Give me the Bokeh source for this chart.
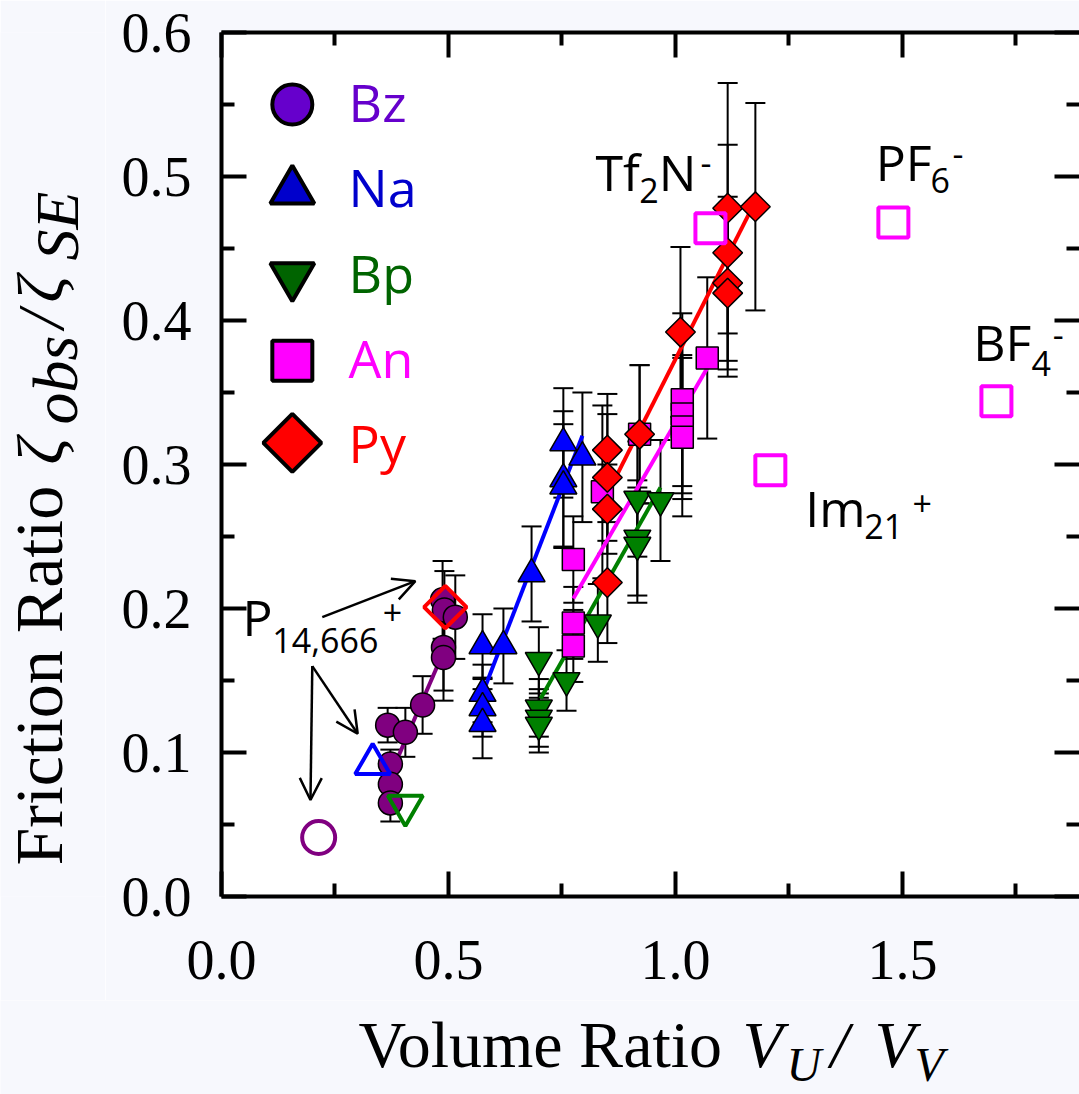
import math
from bokeh.plotting import figure
from bokeh.layouts import column, row
from bokeh.models import (ColumnDataSource, Whisker, TeeHead, FixedTicker,
                          PrintfTickFormatter, CustomJSTickFormatter, LinearAxis,
                          Label, Arrow, OpenHead)
from bokeh.embed import file_html
from bokeh.resources import INLINE

# ---- friction ratio vs. volume ratio, one series per solvent ----
bz_x = [0.366, 0.405, 0.443, 0.372, 0.372, 0.372, 0.489, 0.489, 0.487, 0.491, 0.515]
bz_y = [0.119, 0.114, 0.133, 0.092, 0.078, 0.065, 0.173, 0.166, 0.206, 0.199, 0.194]
bz_err = [0.012, 0.017, 0.020, 0.010, 0.010, 0.013, 0.030, 0.030, 0.027, 0.027, 0.029]

na_x = [0.575, 0.575, 0.575, 0.575, 0.621, 0.683, 0.753, 0.753, 0.753, 0.795]
na_y = [0.174, 0.141, 0.131, 0.120, 0.174, 0.224, 0.315, 0.290, 0.285, 0.305]
na_err = [0.022, 0.020, 0.020, 0.024, 0.026, 0.033, 0.038, 0.047, 0.043, 0.045]

bp_x = [0.699, 0.699, 0.699, 0.699, 0.760, 0.829, 0.916, 0.916, 0.916, 0.967]
bp_y = [0.164, 0.131, 0.124, 0.119, 0.150, 0.190, 0.276, 0.249, 0.244, 0.275]
bp_err = [0.023, 0.020, 0.020, 0.019, 0.021, 0.027, 0.040, 0.040, 0.040, 0.042]

an_x = [0.775, 0.775, 0.775, 0.839, 0.921, 1.015, 1.015, 1.015, 1.015, 1.070]
an_y = [0.234, 0.190, 0.174, 0.281, 0.321, 0.345, 0.335, 0.326, 0.319, 0.374]
an_err = [0.030, 0.025, 0.025, 0.060, 0.048, 0.060, 0.055, 0.050, 0.055, 0.056]

py_x = [0.850, 0.850, 0.850, 0.850, 0.921, 1.011, 1.115, 1.115, 1.115, 1.115, 1.176]
py_y = [0.310, 0.291, 0.269, 0.218, 0.321, 0.392, 0.478, 0.447, 0.426, 0.419, 0.479]
py_err = [0.039, 0.044, 0.031, 0.042, 0.048, 0.059, 0.087, 0.075, 0.060, 0.058, 0.072]

# linear fits (end points)
bz_fit_x, bz_fit_y = [0.370, 0.500], [0.083, 0.178]
na_fit_x, na_fit_y = [0.575, 0.795], [0.141, 0.320]
bp_fit_x, bp_fit_y = [0.703, 0.967], [0.1375, 0.284]
an_fit_x, an_fit_y = [0.775, 1.070], [0.207, 0.367]
py_fit_x, py_fit_y = [0.857, 1.165], [0.284, 0.476]

# P14,666+ in each solvent (open symbols)
p14_bz = (0.214, 0.041)
p14_na = (0.333, 0.092)
p14_bp = (0.405, 0.063)
p14_py = (0.493, 0.201)

# other ions in An (open squares): Tf2N-, PF6-, BF4-, Im21+
ion_x = [1.077, 1.480, 1.707, 1.209]
ion_y = [0.464, 0.468, 0.344, 0.296]

# axes
x_ticks = [0.0, 0.5, 1.0, 1.5]
x_minor = [0.25, 0.75, 1.25, 1.75]
y_ticks = [0.0, 0.1, 0.2, 0.3, 0.4, 0.5, 0.6]
y_minor = [0.05, 0.15, 0.25, 0.35, 0.45, 0.55]

legend_names = ["Bz", "Na", "Bp", "An", "Py"]

PURPLE, BLUE, GREEN, MAGENTA, RED = "#800080", "#0000FF", "#008000", "#FF00FF", "#FF0000"
BG = "#F7F8FD"
SERIF = "Liberation Serif"
SANS = "Open Sans"

YLAB_W = 105      # strip holding the vertical axis title
MAIN_H = 1000     # main plot height; the horizontal title sits below it
XLAB_H = 94
FRAME_TOP, FRAME_BOTTOM = 32, 896

p = figure(width=1079 - YLAB_W, height=MAIN_H, x_range=(0, 1.89), y_range=(0, 0.6),
           output_backend="svg", toolbar_location=None,
           min_border_left=221 - YLAB_W, min_border_right=0, min_border_top=FRAME_TOP,
           min_border_bottom=MAIN_H - FRAME_BOTTOM, background_fill_color="white",
           border_fill_color=BG, outline_line_color=None)
p.grid.visible = False


def style_axis(ax, ticks, minor, show_labels):
    ax.ticker = FixedTicker(ticks=ticks, minor_ticks=minor)
    ax.major_tick_in = 25
    ax.major_tick_out = 0
    ax.minor_tick_in = 13
    ax.minor_tick_out = 0
    ax.major_tick_line_width = 4
    ax.minor_tick_line_width = 4
    ax.axis_line_width = 4
    ax.axis_label = None
    if show_labels:
        ax.formatter = PrintfTickFormatter(format="%.1f")
        ax.major_label_text_font = SERIF
        ax.major_label_text_font_size = "56px"
        ax.major_label_text_color = "black"
    else:
        ax.formatter = CustomJSTickFormatter(code="return ''")
        ax.major_label_standoff = 0


style_axis(p.xaxis[0], x_ticks, x_minor, True)
p.xaxis[0].major_label_standoff = 44
style_axis(p.yaxis[0], y_ticks, y_minor, True)
p.yaxis[0].major_label_standoff = 30

top = LinearAxis()
style_axis(top, x_ticks, x_minor, False)
p.add_layout(top, "above")
right = LinearAxis()
style_axis(right, y_ticks, y_minor, False)
right.axis_line_color = None
p.add_layout(right, "right")

# fit lines
for fx, fy, c in [(bz_fit_x, bz_fit_y, PURPLE), (na_fit_x, na_fit_y, BLUE),
                  (bp_fit_x, bp_fit_y, GREEN), (an_fit_x, an_fit_y, MAGENTA),
                  (py_fit_x, py_fit_y, RED)]:
    p.line(fx, fy, line_color=c, line_width=4)

sources = []
series = [
    (bz_x, bz_y, bz_err, "circle", PURPLE, 24, 0.0),
    (na_x, na_y, na_err, "triangle", BLUE, 27, 0.0),
    (bp_x, bp_y, bp_err, "inverted_triangle", GREEN, 27, 0.0),
    (an_x, an_y, an_err, "square", MAGENTA, 22, 0.0),
    (py_x, py_y, py_err, "square", RED, 21, math.pi / 4),
]
for xs, ys, es, mk, c, sz, ang in series:
    src = ColumnDataSource(dict(x=xs, y=ys,
                                upper=[y + e for y, e in zip(ys, es)],
                                lower=[y - e for y, e in zip(ys, es)]))
    p.scatter("x", "y", source=src, marker=mk, size=sz, angle=ang,
              fill_color=c, line_color="black", line_width=1.5)
    sources.append(src)

for src in sources:
    p.add_layout(Whisker(source=src, base="x", upper="upper", lower="lower",
                         dimension="height", line_color="black", line_width=2,
                         upper_head=TeeHead(size=20, line_color="black", line_width=2),
                         lower_head=TeeHead(size=20, line_color="black", line_width=2)))

# open symbols
p.scatter([p14_bz[0]], [p14_bz[1]], marker="circle", size=33, fill_color=None,
          line_color=PURPLE, line_width=4)
p.scatter([p14_na[0]], [p14_na[1]], marker="triangle", size=35, fill_color=None,
          line_color=BLUE, line_width=4)
p.scatter([p14_bp[0]], [p14_bp[1]], marker="inverted_triangle", size=35, fill_color=None,
          line_color=GREEN, line_width=4)
p.scatter([p14_py[0]], [p14_py[1]], marker="square", size=30, angle=math.pi / 4,
          fill_color=None, line_color=RED, line_width=4)
p.scatter(ion_x, ion_y, marker="square", size=30, fill_color=None,
          line_color=MAGENTA, line_width=4)

# legend
leg_x, leg_text_x = 0.156, 0.280
leg_y = [0.550, 0.490, 0.431, 0.372, 0.315]
leg_base = [0.552, 0.493, 0.433, 0.374, 0.315]
leg_markers = [("circle", 40, 0.0), ("triangle", 44, 0.0), ("inverted_triangle", 44, 0.0),
               ("square", 40, 0.0), ("square", 41, math.pi / 4)]
leg_fill = ["#6600CC", "#0000CC", "#006400", "#FF00FF", "#FF0000"]
for name, ly, lb, (mk, sz, ang), c in zip(legend_names, leg_y, leg_base, leg_markers, leg_fill):
    p.scatter([leg_x], [ly], marker=mk, size=sz, angle=ang, fill_color=c,
              line_color="black", line_width=4)
    p.add_layout(Label(x=leg_text_x, y=lb, text=name, text_font=SANS,
                       text_font_size="52px", text_color=c, text_baseline="alphabetic"))


def txt(fig, x, y, s, size="50px", font=SANS, style="normal", angle=0.0, color="black"):
    fig.add_layout(Label(x=x, y=y, text=s, text_font=font, text_font_size=size,
                         text_font_style=style, text_color=color, angle=angle,
                         text_baseline="alphabetic", text_align="left"))


# ion labels
txt(p, 0.824, 0.503, "Tf"); txt(p, 0.920, 0.490, "2", "34px"); txt(p, 0.963, 0.503, "N")
txt(p, 1.055, 0.510, "-", "34px")
txt(p, 1.441, 0.510, "PF"); txt(p, 1.562, 0.497, "6", "34px"); txt(p, 1.610, 0.516, "-", "34px")
txt(p, 1.656, 0.385, "BF"); txt(p, 1.784, 0.370, "4", "34px"); txt(p, 1.831, 0.390, "-", "34px")
txt(p, 1.286, 0.270, "Im"); txt(p, 1.416, 0.257, "21", "34px"); txt(p, 1.522, 0.273, "+", "34px")
txt(p, 0.046, 0.194, "P"); txt(p, 0.112, 0.178, "14,666", "34px"); txt(p, 0.355, 0.197, "+", "34px")

# arrows from the P14,666+ label
for xs, ys, xe, ye in [(0.222, 0.194, 0.427, 0.219), (0.200, 0.160, 0.300, 0.113),
                       (0.200, 0.160, 0.196, 0.067)]:
    p.add_layout(Arrow(end=OpenHead(size=22, line_width=2.5, line_color="black"),
                       x_start=xs, y_start=ys, x_end=xe, y_end=ye,
                       line_width=2.5, line_color="black"))


def blank(w, h, y_range):
    f = figure(width=w, height=h, x_range=(0, w), y_range=y_range,
               x_axis_location=None, y_axis_location=None, toolbar_location=None,
               output_backend="svg", min_border=0, background_fill_color=BG,
               border_fill_color=BG, outline_line_color=None)
    f.grid.visible = False
    return f


# vertical axis title: Friction Ratio ζobs/ζSE
# (the strip shares the main frame's vertical extent, so map it one unit per pixel)
ylab = blank(YLAB_W, MAIN_H, (MAIN_H - FRAME_BOTTOM, MAIN_H - FRAME_TOP))
half = math.pi / 2
txt(ylab, 38, MAIN_H - 865, "Friction Ratio", "68px", SERIF, angle=half)
txt(ylab, 40, MAIN_H - 464, "ζ", "66px", SERIF, "italic", angle=half)
txt(ylab, 55, MAIN_H - 424, "obs", "64px", SERIF, "italic", angle=half)
txt(ylab, 40, MAIN_H - 328, "/", "66px", SERIF, "italic", angle=half)
txt(ylab, 40, MAIN_H - 302, "ζ", "66px", SERIF, "italic", angle=half)
txt(ylab, 56, MAIN_H - 260, "SE", "62px", SERIF, "italic", angle=half)

# horizontal axis title: Volume Ratio VU / VV
xlab = blank(1079, XLAB_H, (0, XLAB_H))
txt(xlab, 358, 50, "Volume Ratio", "66px", SERIF)
txt(xlab, 742, 50, "V", "66px", SERIF, "italic")
txt(xlab, 786, 30, "U", "48px", SERIF, "italic")
txt(xlab, 830, 50, "/", "66px", SERIF, "italic")
txt(xlab, 874, 50, "V", "66px", SERIF, "italic")
txt(xlab, 914, 30, "V", "48px", SERIF, "italic")

page = column(row(ylab, p, spacing=0), xlab, spacing=0)
open("out.html", "w").write(file_html(page, INLINE))
